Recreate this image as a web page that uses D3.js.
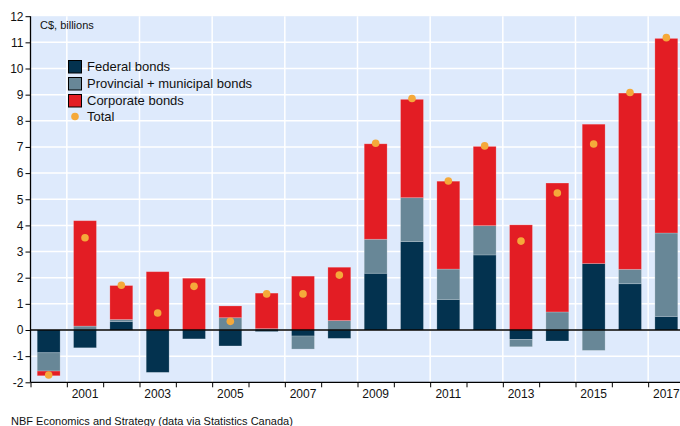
<!DOCTYPE html>
<html>
<head>
<meta charset="utf-8">
<script src="https://cdn.jsdelivr.net/npm/d3@7"></script>
<style>
  body { margin: 0; background: #fff; }
  svg { display: block; font-family: "Liberation Sans", Arial, sans-serif; }
</style>
</head>
<body>
<script>
// values, C$ billions
const years = [2000, 2001, 2002, 2003, 2004, 2005, 2006, 2007, 2008,
               2009, 2010, 2011, 2012, 2013, 2014, 2015, 2016, 2017];
const federal =    [-0.87, -0.68, 0.32, -1.62, -0.34, -0.61, -0.06, -0.23, -0.32,
                    2.17, 3.38, 1.17, 2.87, -0.36, -0.42, 2.54, 1.77, 0.52];
const provincial = [-0.70, 0.15, 0.08, 0, 0, 0.47, 0.05, -0.50, 0.36,
                    1.30, 1.68, 1.16, 1.12, -0.28, 0.69, -0.78, 0.55, 3.19];
const corporate =  [-0.18, 4.03, 1.30, 2.23, 1.98, 0.45, 1.36, 2.06, 2.04,
                    3.65, 3.76, 3.36, 3.03, 4.02, 4.93, 5.33, 6.74, 7.44];
const totals =     [-1.72, 3.53, 1.71, 0.65, 1.67, 0.33, 1.38, 1.38, 2.10,
                    7.14, 8.85, 5.70, 7.04, 3.40, 5.24, 7.11, 9.08, 11.18];
const yTicks = d3.range(-2, 13);
const labelYears = [2001, 2003, 2005, 2007, 2009, 2011, 2013, 2015, 2017];

const series = [
  {key: "federal", name: "Federal bonds", color: "#03324f"},
  {key: "provincial", name: "Provincial + municipal bonds", color: "#688797"},
  {key: "corporate", name: "Corporate bonds", color: "#e31d24"}
];
const dotColor = "#f5a93a";

const W = 680, H = 426;
const plot = {left: 30.5, right: 684.5, top: 16.2, bottom: 382.3};

const rows = years.map((yr, i) => ({
  year: yr, federal: federal[i], provincial: provincial[i], corporate: corporate[i], total: totals[i]
}));

const x = d3.scaleBand().domain(years).range([plot.left, plot.right])
    .paddingInner(0.37).paddingOuter(0.185);
// boundaries between years (for ticks and vertical grid)
const xb = d3.scaleLinear().domain([2000, 2018]).range([plot.left, plot.right]);
const y = d3.scaleLinear().domain([-2, 12]).range([plot.bottom, plot.top]);

const svg = d3.select("body").append("svg")
    .attr("width", W).attr("height", H);

// plot background
svg.append("rect")
    .attr("x", plot.left).attr("y", plot.top)
    .attr("width", W - plot.left).attr("height", plot.bottom - plot.top)
    .attr("fill", "#deeafc");

// grid
const grid = svg.append("g").attr("stroke", "#fff").attr("stroke-width", 1.5);
grid.selectAll(".hg").data(yTicks.filter(d => d > -2 && d < 12)).enter().append("line")
    .attr("x1", plot.left).attr("x2", W)
    .attr("y1", d => y(d)).attr("y2", d => y(d));
grid.selectAll(".vg").data(labelYears).enter().append("line")
    .attr("x1", d => xb(d)).attr("x2", d => xb(d))
    .attr("y1", plot.top).attr("y2", plot.bottom);

// stacked bars
const stack = d3.stack().keys(series.map(s => s.key)).offset(d3.stackOffsetDiverging);
const stacked = stack(rows);

svg.append("g").selectAll("g").data(stacked).enter().append("g")
    .attr("fill", (d, i) => series[i].color)
    .selectAll("rect").data(d => d).enter().append("rect")
    .attr("x", d => x(d.data.year))
    .attr("width", x.bandwidth())
    .attr("y", d => y(Math.max(d[0], d[1])))
    .attr("height", d => Math.abs(y(d[0]) - y(d[1])))
    .attr("stroke", "#fff").attr("stroke-opacity", 0.25).attr("stroke-width", 0.8);

// zero line
svg.append("line")
    .attr("x1", plot.left).attr("x2", W)
    .attr("y1", y(0)).attr("y2", y(0))
    .attr("stroke", "#000").attr("stroke-width", 1.3);

// totals
svg.append("g").selectAll("circle").data(rows).enter().append("circle")
    .attr("cx", d => x(d.year) + x.bandwidth() / 2)
    .attr("cy", d => y(d.total))
    .attr("r", 3.8)
    .attr("fill", dotColor);

// y axis
const yAxis = svg.append("g")
    .attr("transform", `translate(${plot.left},0)`)
    .call(d3.axisLeft(y).tickValues(yTicks).tickSize(5).tickPadding(2).tickFormat(d3.format("d")));
yAxis.select(".domain").attr("stroke", "#000").attr("stroke-width", 1.3)
    .attr("d", `M0,${plot.top}V${plot.bottom}`);
yAxis.selectAll("text").attr("font-size", 12).attr("fill", "#111")
    .attr("font-family", "'Liberation Sans', Arial, sans-serif")
    .text(d => d < 0 ? "-" + Math.abs(d) : d);

// x axis: ticks at year boundaries
const xAxis = svg.append("g")
    .attr("transform", `translate(0,${plot.bottom})`)
    .call(d3.axisBottom(xb).tickValues(d3.range(2000, 2019)).tickSize(5).tickFormat(""));
xAxis.select(".domain").attr("stroke", "#000").attr("stroke-width", 1.3)
    .attr("d", `M${plot.left},0H${W}`);

// x labels at odd years
const xLab = svg.append("g")
    .attr("transform", `translate(0,${plot.bottom})`)
    .call(d3.axisBottom(x).tickValues(labelYears).tickSize(0).tickPadding(7));
xLab.select(".domain").remove();
xLab.selectAll("text").attr("font-size", 12).attr("fill", "#111")
    .attr("font-family", "'Liberation Sans', Arial, sans-serif");

// unit label
svg.append("text")
    .attr("x", 40).attr("y", 29)
    .attr("font-size", 11).attr("fill", "#111")
    .text("C$, billions");

// legend
const legend = svg.append("g").attr("transform", "translate(68,60)");
series.forEach((s, i) => {
  const g = legend.append("g").attr("transform", `translate(0,${i * 17})`);
  g.append("rect").attr("x", 0.5).attr("y", 0.5).attr("width", 13).attr("height", 12.5)
      .attr("fill", s.color).attr("stroke", "#000").attr("stroke-width", 1);
  g.append("text").attr("x", 19).attr("y", 11).attr("font-size", 13).attr("fill", "#111")
      .text(s.name);
});
const tg = legend.append("g").attr("transform", `translate(0,${3 * 17 - 1})`);
tg.append("circle").attr("cx", 7).attr("cy", 6.5).attr("r", 3.8).attr("fill", dotColor);
tg.append("text").attr("x", 19).attr("y", 11).attr("font-size", 13).attr("fill", "#111").text("Total");

// source
svg.append("text")
    .attr("x", 11).attr("y", 425)
    .attr("font-size", 11).attr("fill", "#111")
    .text("NBF Economics and Strategy (data via Statistics Canada)");
</script>
</body>
</html>
